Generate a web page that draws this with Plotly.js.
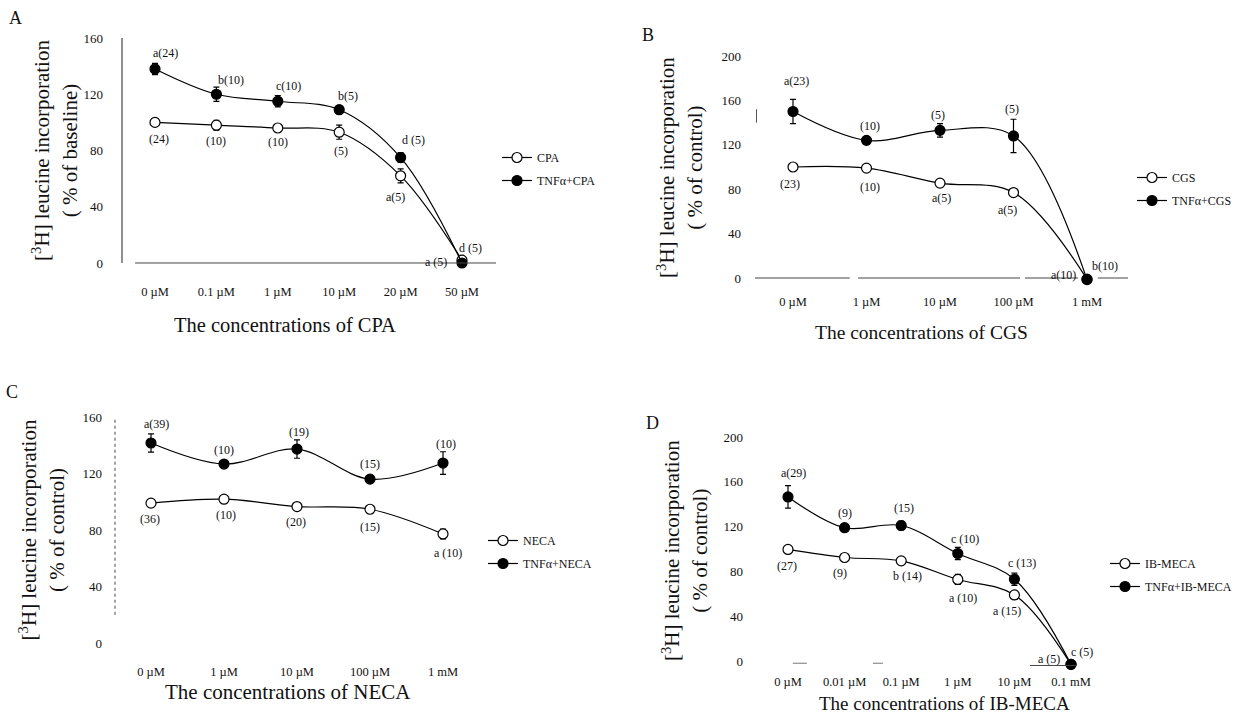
<!DOCTYPE html>
<html>
<head>
<meta charset="utf-8">
<script src="https://cdn.plot.ly/plotly-3.0.1.min.js"></script>
<style>html,body{margin:0;padding:0;background:#fff;}#chart{width:1243px;height:721px;}</style>
</head>
<body>
<div id="chart"></div>
<script>
// ---------------- DATA ----------------
// Panel A: CPA
const catsA = ['0 µM', '0.1 µM', '1 µM', '10 µM', '20 µM', '50 µM'];
const cpa = [100, 98, 96, 93, 62, 2];
const cpaErr = [1.5, 3.5, 2, 5, 5, 1];
const tnfCpa = [138, 120, 115, 109, 75, 0];
const tnfCpaErr = [4, 5, 4, 3, 3.5, 1];
const cpaLabels = ['(24)', '(10)', '(10)', '(5)', 'a(5)', 'a (5)'];
const tnfCpaLabels = ['a(24)', 'b(10)', 'c(10)', 'b(5)', 'd (5)', 'd (5)'];

// Panel B: CGS
const catsB = ['0 µM', '1 µM', '10 µM', '100 µM', '1 mM'];
const cgs = [100, 99, 85.5, 77, -1];
const cgsErr = [1.5, 2, 1.5, 2, 0];
const tnfCgs = [150, 124, 133, 128, -1.5];
const tnfCgsErr = [11, 3, 6, 15, 1];
const cgsLabels = ['(23)', '(10)', 'a(5)', 'a(5)', 'a(10)'];
const tnfCgsLabels = ['a(23)', '(10)', '(5)', '(5)', 'b(10)'];

// Panel C: NECA
const catsC = ['0 µM', '1 µM', '10 µM', '100 µM', '1 mM'];
const neca = [99, 101.8, 96.6, 94.7, 77.2];
const necaErr = [1.5, 1.5, 1.5, 2.5, 3.5];
const tnfNeca = [141.6, 126.7, 137.3, 116, 127.4];
const tnfNecaErr = [6.5, 2, 6.5, 2, 8];
const necaLabels = ['(36)', '(10)', '(20)', '(15)', 'a (10)'];
const tnfNecaLabels = ['a(39)', '(10)', '(19)', '(15)', '(10)'];

// Panel D: IB-MECA
const catsD = ['0 µM', '0.01 µM', '0.1 µM', '1 µM', '10 µM', '0.1 mM'];
const ibmeca = [99.6, 92.4, 89.4, 72.8, 59, -3];
const ibmecaErr = [1, 1, 1, 4.5, 2, 0];
const tnfIbmeca = [146.5, 119, 121, 96, 73, -3];
const tnfIbmecaErr = [10, 2, 4, 5.5, 5.5, 1];
const ibmecaLabels = ['(27)', '(9)', 'b (14)', 'a (10)', 'a (15)', 'a (5)'];
const tnfIbmecaLabels = ['a(29)', '(9)', '(15)', 'c (10)', 'c (13)', 'c (5)'];

const yTicks = {A: [0, 40, 80, 120, 160], B: [0, 40, 80, 120, 160, 200], C: [0, 40, 80, 120, 160], D: [0, 40, 80, 120, 160, 200]};
const xTitles = {A: 'The concentrations of CPA', B: 'The concentrations of CGS', C: 'The concentrations of NECA', D: 'The concentrations of IB-MECA'};
const yTitleA = '[<sup>3</sup>H] leucine incorporation<br>( % of baseline)';
const yTitleOther = '[<sup>3</sup>H] leucine incorporation<br>( % of control)';

// ---------------- LAYOUT GEOMETRY (pixels) ----------------
const W = 1243, H = 721;
const FONT = 'Liberation Serif, Times New Roman, serif';
const fx = px => px / W;
const fy = py => 1 - py / H;

const geo = {
  A: {c0: 155, cN: 462, left: 122, right: 496, y0: 263, yT: 38, T: 160, lo: -5, hi: 165, ylStand: 18, xlStand: 12, ytStand: 0,
      title: {x: 285, y: 325, size: 20.5}},
  B: {c0: 793, cN: 1087, left: 752, right: 1128, y0: 278, yT: 56, T: 200, lo: -6, hi: 205, ylStand: 10, xlStand: 8, ytStand: 13,
      title: {x: 921, y: 332, size: 19.5}},
  C: {c0: 151, cN: 443, left: 115, right: 480, y0: 643, yT: 417, T: 160, lo: -5, hi: 165, ylStand: 12, xlStand: 12, ytStand: 12,
      title: {x: 288, y: 692, size: 21}},
  D: {c0: 788, cN: 1071, left: 760, right: 1095, y0: 661, yT: 437, T: 200, lo: -8, hi: 205, ylStand: 16, xlStand: 3, ytStand: 10,
      title: {x: 944, y: 703, size: 19}}
};

function xAxis(g, n) {
  const sp = (g.cN - g.c0) / (n - 1);
  return {
    domain: [fx(g.left), fx(g.right)],
    range: [-(g.c0 - g.left) / sp, (n - 1) + (g.right - g.cN) / sp],
    type: 'category', showgrid: false, zeroline: false, showline: false, ticks: '',
    ticklabelstandoff: g.xlStand,
    tickfont: {family: FONT, size: 12.5, color: '#111'},
    automargin: false, fixedrange: true
  };
}
function yAxis(g, ticks, titleText) {
  const s = (g.y0 - g.yT) / g.T;
  return {
    domain: [fy(g.y0 - g.lo * s), fy(g.y0 - g.hi * s)],
    range: [g.lo, g.hi],
    showgrid: false, zeroline: false, showline: false, ticks: '',
    tickvals: ticks, ticktext: ticks.map(String),
    ticklabelstandoff: g.ylStand,
    tickfont: {family: FONT, size: 13, color: '#111'},
    title: {text: titleText, font: {family: FONT, size: 21, color: '#111'}, standoff: g.ytStand},
    automargin: false, fixedrange: true
  };
}

// ---------------- TRACES ----------------
function series(xa, ya, cats, vals, errs, name, filled, legendId) {
  return {
    type: 'scatter', mode: 'lines+markers', x: cats, y: vals, name: name,
    xaxis: xa, yaxis: ya, legend: legendId, legendgroup: legendId + name,
    line: {color: '#000', width: 1.2, shape: 'spline', smoothing: 1},
    marker: {symbol: 'circle', size: 10, color: filled ? '#000' : '#fff', line: {color: '#000', width: 1.2}},
    error_y: {type: 'data', array: errs, visible: true, color: '#000', thickness: 1.2, width: 3},
    cliponaxis: false
  };
}

const traces = [
  series('x', 'y', catsA, cpa, cpaErr, 'CPA', false, 'legend'),
  series('x', 'y', catsA, tnfCpa, tnfCpaErr, 'TNFα+CPA', true, 'legend'),
  series('x2', 'y2', catsB, cgs, cgsErr, 'CGS', false, 'legend2'),
  series('x2', 'y2', catsB, tnfCgs, tnfCgsErr, 'TNFα+CGS', true, 'legend2'),
  series('x3', 'y3', catsC, neca, necaErr, 'NECA', false, 'legend3'),
  series('x3', 'y3', catsC, tnfNeca, tnfNecaErr, 'TNFα+NECA', true, 'legend3'),
  series('x4', 'y4', catsD, ibmeca, ibmecaErr, 'IB-MECA', false, 'legend4'),
  series('x4', 'y4', catsD, tnfIbmeca, tnfIbmecaErr, 'TNFα+IB-MECA', true, 'legend4')
];

// ---------------- ANNOTATIONS ----------------
const annotations = [];
// label offsets (px) [dx, dy] for each point
const offsets = {
  cpa: [[4, -17], [0, -16], [0, -14], [2, -19], [-5, -21], [-26, -2]],
  tnfCpa: [[10, 16], [15, 14], [11, 15], [9, 14], [13, 18], [8, 15]],
  cgs: [[-3, -17], [3, -19], [1, -15], [-6, -17], [-24, 4]],
  tnfCgs: [[3, 31], [3, 14], [-2, 15], [-2, 27], [18, 14]],
  neca: [[-1, -16], [2, -16], [-1, -15], [0, -18], [5, -19]],
  tnfNeca: [[5, 19], [0, 14], [2, 17], [0, 15], [3, 19]],
  ibmeca: [[-1, -17], [-5, -15], [6, -15], [5, -19], [-7, -16], [-22, 5]],
  tnfIbmeca: [[6, 24], [0, 15], [3, 17], [7, 14], [8, 16], [11, 12]]
};
function pointLabels(xa, ya, cats, vals, texts, offs) {
  texts.forEach((t, i) => {
    annotations.push({
      xref: xa, yref: ya, x: cats[i], y: vals[i], text: t, showarrow: false,
      xshift: offs[i][0], yshift: offs[i][1],
      font: {family: FONT, size: 12, color: '#111'}
    });
  });
}
pointLabels('x', 'y', catsA, cpa, cpaLabels, offsets.cpa);
pointLabels('x', 'y', catsA, tnfCpa, tnfCpaLabels, offsets.tnfCpa);
pointLabels('x2', 'y2', catsB, cgs, cgsLabels, offsets.cgs);
pointLabels('x2', 'y2', catsB, tnfCgs, tnfCgsLabels, offsets.tnfCgs);
pointLabels('x3', 'y3', catsC, neca, necaLabels, offsets.neca);
pointLabels('x3', 'y3', catsC, tnfNeca, tnfNecaLabels, offsets.tnfNeca);
pointLabels('x4', 'y4', catsD, ibmeca, ibmecaLabels, offsets.ibmeca);
pointLabels('x4', 'y4', catsD, tnfIbmeca, tnfIbmecaLabels, offsets.tnfIbmeca);

// x-axis titles
['A', 'B', 'C', 'D'].forEach(k => {
  const t = geo[k].title;
  annotations.push({xref: 'paper', yref: 'paper', x: fx(t.x), y: fy(t.y), text: xTitles[k], showarrow: false,
    xanchor: 'center', yanchor: 'middle', font: {family: FONT, size: t.size, color: '#111'}});
});

// panel letters
[['A', 15, 18], ['B', 648, 35], ['C', 12, 392], ['D', 652, 423]].forEach(p => {
  annotations.push({xref: 'paper', yref: 'paper', x: fx(p[1]), y: fy(p[2]), text: p[0], showarrow: false,
    xanchor: 'center', yanchor: 'middle', font: {family: FONT, size: 18, color: '#111'}});
});

// ---------------- AXIS LINES (shapes) ----------------
const axisLine = {color: '#333', width: 1.1};
const shapes = [
  // A: solid y-axis and x-axis at zero
  {type: 'line', xref: 'x domain', yref: 'y', x0: 0, x1: 0, y0: 0, y1: 160, line: axisLine},
  {type: 'line', xref: 'x domain', yref: 'y', x0: 0.035, x1: 1, y0: 0, y1: 0, line: {color: '#444', width: 1}},
  // B: broken x-axis line at zero, small mark on the y side
  {type: 'line', xref: 'x2 domain', yref: 'y2', x0: 0.008, x1: 0.26, y0: 0, y1: 0, line: {color: '#444', width: 1}},
  {type: 'line', xref: 'x2 domain', yref: 'y2', x0: 0.282, x1: 0.713, y0: 0, y1: 0, line: {color: '#444', width: 1}},
  {type: 'line', xref: 'x2 domain', yref: 'y2', x0: 0.726, x1: 0.867, y0: 0, y1: 0, line: {color: '#444', width: 1}},
  {type: 'line', xref: 'x2 domain', yref: 'y2', x0: 0.92, x1: 1, y0: 0, y1: 0, line: {color: '#444', width: 1}},
  {type: 'line', xref: 'x2 domain', yref: 'y2', x0: 0.012, x1: 0.012, y0: 140, y1: 152, line: {color: '#555', width: 1}},
  // C: dotted y-axis line
  {type: 'line', xref: 'x3 domain', yref: 'y3', x0: 0, x1: 0, y0: 20, y1: 160, line: {color: '#444', width: 1, dash: 'dot'}},
  // D: fragments of the x-axis line
  {type: 'line', xref: 'x4 domain', yref: 'y4', x0: 0.098, x1: 0.14, y0: -2, y1: -2, line: {color: '#777', width: 1}},
  {type: 'line', xref: 'x4 domain', yref: 'y4', x0: 0.337, x1: 0.367, y0: -2, y1: -2, line: {color: '#777', width: 1}},
  {type: 'line', xref: 'x4 domain', yref: 'y4', x0: 0.806, x1: 0.946, y0: -4, y1: -4, line: {color: '#444', width: 1}}
];

// ---------------- LEGENDS ----------------
function legendAt(pxX, pxY) {
  return {x: fx(pxX), y: fy(pxY), xanchor: 'left', yanchor: 'top', bgcolor: 'rgba(0,0,0,0)',
    font: {family: FONT, size: 12, color: '#111'}, tracegroupgap: 4, traceorder: 'grouped', itemwidth: 30};
}

const layout = {
  width: W, height: H,
  margin: {l: 0, r: 0, t: 0, b: 0},
  paper_bgcolor: '#fff', plot_bgcolor: 'rgba(0,0,0,0)',
  showlegend: true,
  font: {family: FONT, color: '#111'},
  xaxis: Object.assign(xAxis(geo.A, catsA.length), {anchor: 'y'}),
  yaxis: Object.assign(yAxis(geo.A, yTicks.A, yTitleA), {anchor: 'x'}),
  xaxis2: Object.assign(xAxis(geo.B, catsB.length), {anchor: 'y2'}),
  yaxis2: Object.assign(yAxis(geo.B, yTicks.B, yTitleOther), {anchor: 'x2'}),
  xaxis3: Object.assign(xAxis(geo.C, catsC.length), {anchor: 'y3'}),
  yaxis3: Object.assign(yAxis(geo.C, yTicks.C, yTitleOther), {anchor: 'x3'}),
  xaxis4: Object.assign(xAxis(geo.D, catsD.length), {anchor: 'y4'}),
  yaxis4: Object.assign(yAxis(geo.D, yTicks.D, yTitleOther), {anchor: 'x4'}),
  legend: legendAt(497, 143),
  legend2: legendAt(1132, 163),
  legend3: legendAt(483, 526),
  legend4: legendAt(1105, 549),
  annotations: annotations,
  shapes: shapes
};

Plotly.newPlot('chart', traces, layout, {displayModeBar: false, staticPlot: true});
</script>
</body>
</html>
